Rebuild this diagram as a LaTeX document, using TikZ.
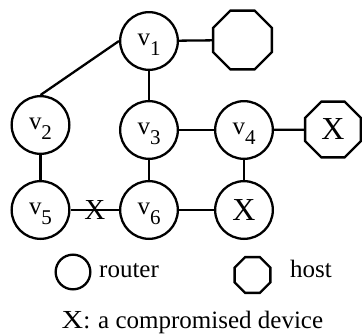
\documentclass[tikz,border=0pt]{standalone}
\usepackage{fontspec}
\usepackage{graphicx}
\setmainfont{Liberation Serif}
\usetikzlibrary{shapes.geometric}
\newcommand\vlab[1]{\smash{\raisebox{-4pt}{v\raisebox{-10pt}{\fontsize{21}{21}\selectfont #1}}}}
\tikzset{
  router/.style={circle,draw,line width=2.3pt,minimum size=57.7pt,inner sep=0pt,font=\fontsize{25}{25}\selectfont},
  host/.style={regular polygon,regular polygon sides=8,draw,line width=2.3pt,inner sep=0pt,minimum size=63.6pt},
  bigx/.style={font=\fontsize{32}{32}\selectfont},
  link/.style={line width=2.3pt},
  legtext/.style={anchor=base west,inner sep=0pt,font=\fontsize{25}{25}\selectfont}
}
\begin{document}
\begin{tikzpicture}[x=1pt,y=-1pt]
\useasboundingbox (0,0) rectangle (362,335);
\node[router] (v1) at (149,41) {\vlab{1}};
\node[host] (h1) at (242.5,40) {};
\node[router] (v2) at (40.5,125) {\vlab{2}};
\node[router] (v3) at (149,130) {\vlab{3}};
\node[router] (v4) at (244,130) {\vlab{4}};
\node[host,minimum size=60.3pt,bigx] (h2) at (333,129.5) {X};
\node[router] (v5) at (40.5,210) {\vlab{5}};
\node[router] (v6) at (149,210) {\vlab{6}};
\node[router,bigx] (v7) at (244,210) {X};
\draw[link] (v1.west) -- (v2.north);
\draw[link] (v1) -- (h1);
\draw[link] (v1) -- (v3);
\draw[link] (v3) -- (v4);
\draw[link] (v4) -- (h2);
\draw[link] (v2) -- (v5);
\draw[link] (v3) -- (v6);
\draw[link] (v4) -- (v7);
\draw[link] (v5) -- node[inner sep=0pt,font=\fontsize{29}{29}\selectfont] (ex) {X} (v6);
\draw[link] (v6) -- (v7);
% legend
\node[router,minimum size=34.7pt] (lr) at (73,272) {};
\node[legtext] (lrt) at (99,277) {router};
\node[host,minimum size=38.7pt] (lh) at (252.5,275) {};
\node[legtext] (lht) at (290,277) {host};
\node[legtext] (lx) at (61.5,328) {\scalebox{1.15}[1]{\fontsize{26}{26}\selectfont X}:\hspace{8pt}a compromised device};
\end{tikzpicture}
\end{document}
